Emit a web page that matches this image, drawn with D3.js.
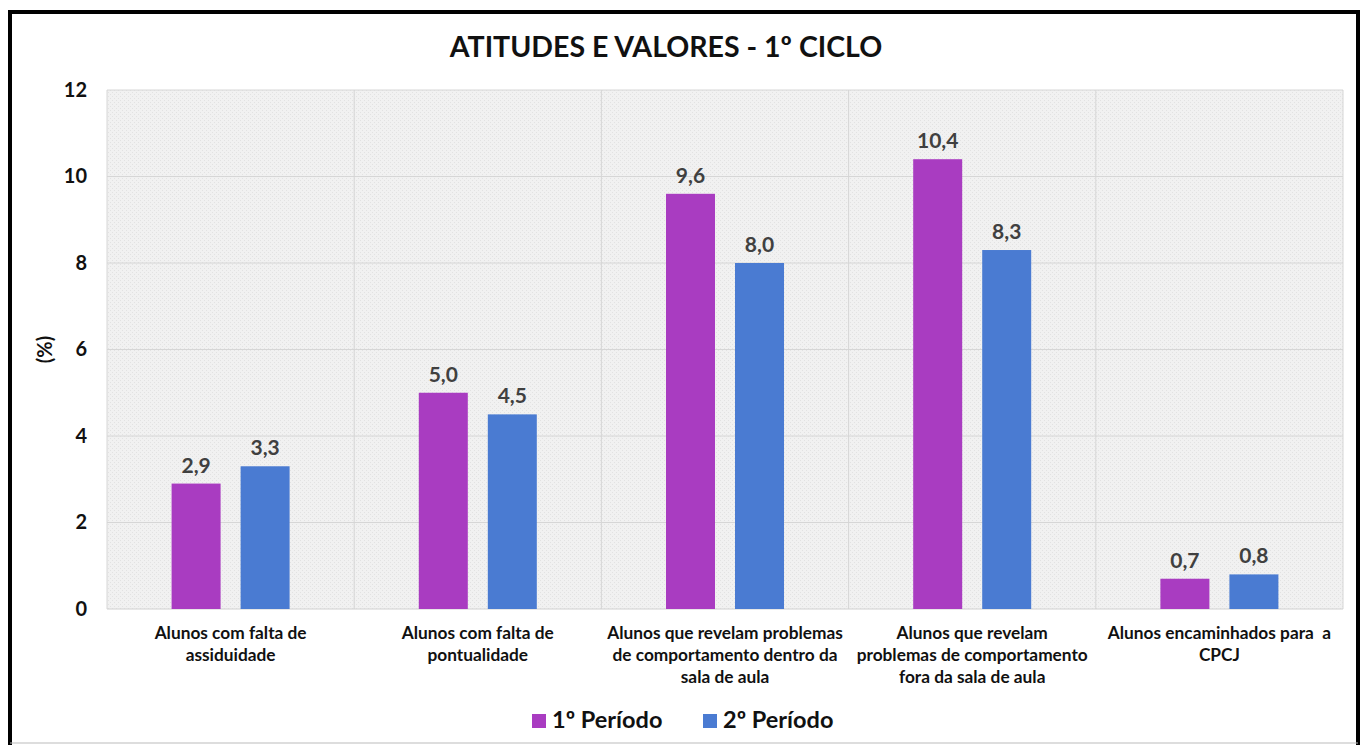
<!DOCTYPE html>
<html>
<head>
<meta charset="utf-8">
<script src="https://cdn.jsdelivr.net/npm/d3@7"></script>
<style>
  body { margin: 0; background: #fff; }
  svg { display: block; font-family: Lato, "Open Sans", sans-serif; }
</style>
</head>
<body>
<script>
const categories = [
  ["Alunos com falta de", "assiduidade"],
  ["Alunos com falta de", "pontualidade"],
  ["Alunos que revelam problemas", "de comportamento dentro da", "sala de aula"],
  ["Alunos que revelam", "problemas de comportamento", "fora da sala de aula"],
  ["Alunos encaminhados para  a", "CPCJ"]
];
const seriesNames = ["1º Período", "2º Período"];
const periodo1 = [2.9, 5.0, 9.6, 10.4, 0.7];
const periodo2 = [3.3, 4.5, 8.0, 8.3, 0.8];
const yTicks = [0, 2, 4, 6, 8, 10, 12];
const colors = ["#a93cc1", "#4a7bd2"];

const W = 1362, H = 745;
const svg = d3.select("body").append("svg").attr("width", W).attr("height", H);

// hatch-like background pattern
const defs = svg.append("defs");
const pat = defs.append("pattern").attr("id", "bg")
  .attr("width", 4).attr("height", 4).attr("patternUnits", "userSpaceOnUse");
pat.append("rect").attr("width", 4).attr("height", 4).attr("fill", "#f1f1f1");
pat.append("rect").attr("x", 0).attr("y", 0).attr("width", 1).attr("height", 1).attr("fill", "#e2e2e2");
pat.append("rect").attr("x", 2).attr("y", 2).attr("width", 1).attr("height", 1).attr("fill", "#e2e2e2");

const plot = { left: 107, right: 1343, top: 90, bottom: 609 };

const x0 = d3.scaleBand().domain(d3.range(categories.length))
  .range([plot.left, plot.right]).paddingInner(0).paddingOuter(0);
const x1 = d3.scaleBand().domain(d3.range(seriesNames.length))
  .range([0, x0.bandwidth()]).paddingInner(0.29).paddingOuter(0.936);
const y = d3.scaleLinear().domain([0, 12]).range([plot.bottom, plot.top]);

// plot background
svg.append("rect")
  .attr("x", plot.left).attr("y", plot.top)
  .attr("width", plot.right - plot.left).attr("height", plot.bottom - plot.top)
  .attr("fill", "url(#bg)");

// horizontal gridlines
svg.append("g").selectAll("line").data(yTicks.filter(d => d > 0)).join("line")
  .attr("x1", plot.left).attr("x2", plot.right)
  .attr("y1", d => y(d)).attr("y2", d => y(d))
  .attr("stroke", "#d6d6d6").attr("stroke-width", 1);

// vertical category separators
svg.append("g").selectAll("line").data(d3.range(categories.length + 1)).join("line")
  .attr("x1", i => i < categories.length ? x0(i) : plot.right)
  .attr("x2", i => i < categories.length ? x0(i) : plot.right)
  .attr("y1", plot.top).attr("y2", plot.bottom)
  .attr("stroke", "#d6d6d6").attr("stroke-width", 1);

// baseline
svg.append("line")
  .attr("x1", plot.left).attr("x2", plot.right)
  .attr("y1", y(0)).attr("y2", y(0))
  .attr("stroke", "#d0d0d0");

// y axis labels
const yAxis = d3.axisLeft(y).tickValues(yTicks).tickSize(0).tickPadding(0);
const ya = svg.append("g").attr("transform", `translate(87,0)`).call(yAxis);
ya.select(".domain").remove();
ya.selectAll("text").attr("font-size", 20).attr("font-weight", 700)
  .attr("fill", "#111").attr("font-family", "Lato, sans-serif");

svg.append("text")
  .attr("transform", `translate(52,${(plot.top + plot.bottom) / 2}) rotate(-90)`)
  .attr("text-anchor", "middle")
  .attr("font-size", 20).attr("font-weight", 700).attr("fill", "#111")
  .text("(%)");

// bars
const values = [periodo1, periodo2];
const groups = svg.append("g").selectAll("g").data(categories).join("g")
  .attr("transform", (d, i) => `translate(${x0(i)},0)`);

groups.selectAll("rect")
  .data((d, i) => values.map((s, j) => ({ s: j, v: s[i] })))
  .join("rect")
  .attr("x", d => x1(d.s))
  .attr("width", x1.bandwidth())
  .attr("y", d => y(d.v))
  .attr("height", d => y(0) - y(d.v))
  .attr("fill", d => colors[d.s]);

const fmt = v => d3.format(".1f")(v).replace(".", ",");
groups.selectAll("text.lbl")
  .data((d, i) => values.map((s, j) => ({ s: j, v: s[i] })))
  .join("text").attr("class", "lbl")
  .attr("x", d => x1(d.s) + x1.bandwidth() / 2)
  .attr("y", d => y(d.v) - 11)
  .attr("text-anchor", "middle")
  .attr("font-size", 21).attr("font-weight", 700).attr("fill", "#404040")
  .text(d => fmt(d.v));

// category labels
const xl = svg.append("g").selectAll("text").data(categories).join("text")
  .attr("x", (d, i) => x0(i) + x0.bandwidth() / 2)
  .attr("y", 639)
  .attr("text-anchor", "middle")
  .attr("font-size", 17.3).attr("font-weight", 700).attr("fill", "#111");
xl.selectAll("tspan").data(d => d).join("tspan")
  .attr("x", function () { return this.parentNode.getAttribute("x"); })
  .attr("dy", (d, i) => i === 0 ? 0 : 22)
  .style("white-space", "pre")
  .text(d => d);

// title
svg.append("text")
  .attr("x", 666).attr("y", 57)
  .attr("text-anchor", "middle")
  .attr("font-size", 28.5).attr("font-weight", 700).attr("fill", "#111")
  .text("ATITUDES E VALORES - 1º CICLO");

// legend
const legendX = [532, 703];
const lg = svg.append("g").selectAll("g").data(seriesNames).join("g")
  .attr("transform", (d, i) => `translate(${legendX[i]},714)`);
lg.append("rect").attr("width", 14).attr("height", 14).attr("fill", (d, i) => colors[i]);
lg.append("text").attr("x", 20).attr("y", 14)
  .attr("font-size", 23.5).attr("font-weight", 700).attr("fill", "#111")
  .text(d => d);

// outer frame
svg.append("path")
  .attr("d", `M10,760 L10,12 L1358,12 L1358,760`)
  .attr("fill", "none").attr("stroke", "#000").attr("stroke-width", 4);
svg.append("line").attr("x1", 10).attr("x2", 1358).attr("y1", 743).attr("y2", 743)
  .attr("stroke", "#bbb").attr("stroke-width", 1);
</script>
</body>
</html>
